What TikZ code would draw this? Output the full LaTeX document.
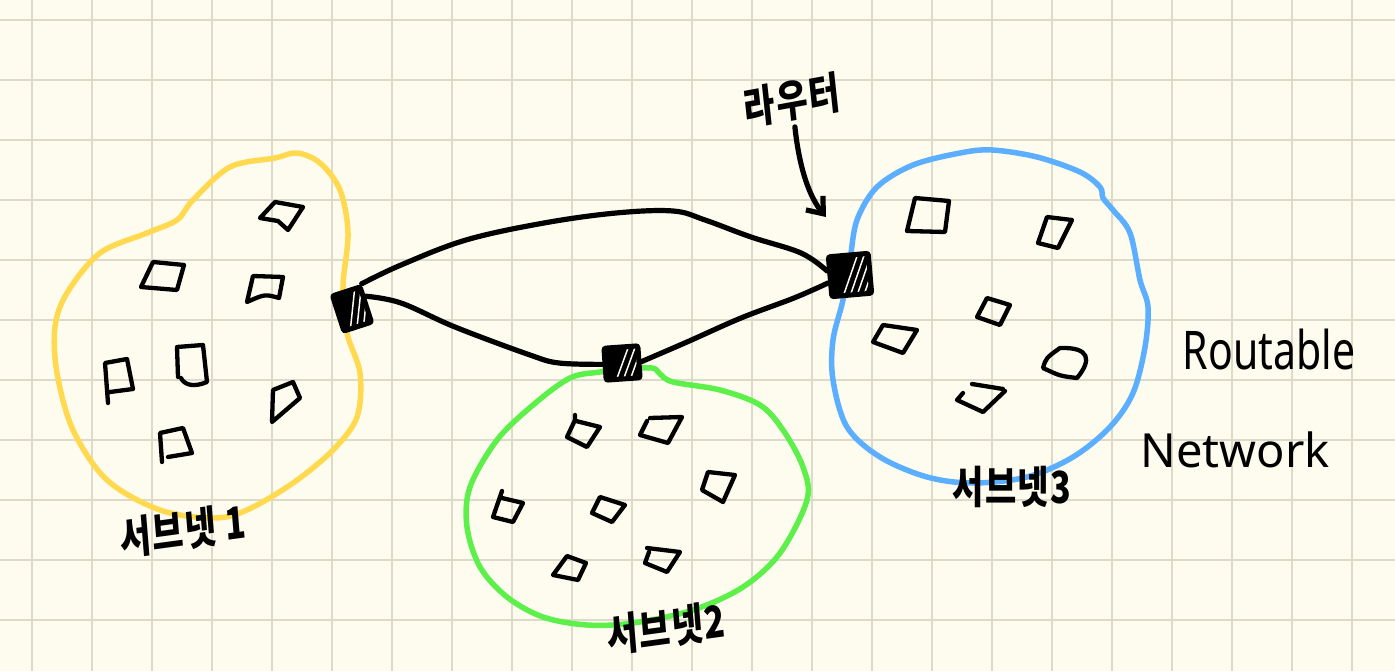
\documentclass[tikz,border=0pt]{standalone}
\usepackage{fontspec}
\setmainfont{Noto Sans}
\newfontfamily\kr{Noto Sans CJK KR}[LetterSpace=4]
\usetikzlibrary{arrows.meta,calc}
\definecolor{cream}{RGB}{254,252,238}
\definecolor{gridc}{RGB}{221,218,202}
\definecolor{yel}{RGB}{255,217,80}
\definecolor{grn}{RGB}{94,240,74}
\definecolor{blu}{RGB}{92,174,255}
\tikzset{
  blob/.style={line width=5.5pt, line join=round},
  dev/.style={line width=4.3pt, line join=round, line cap=round, black},
  wire/.style={line width=5.2pt, line cap=round, line join=round, black},
  router/.style={draw=black, fill=black, line width=5pt, rounded corners=2pt, inner sep=0pt,
    path picture={
      \foreach \d in {-11,-4,3,10,17}{
        \draw[cream, line width=1.5pt] ($(path picture bounding box.center)+(\d pt,-26pt)$) -- ++(66:56pt);
      }
    }},
  krlab/.style={font=\kr\bfseries\fontsize{34}{40}\selectfont, inner sep=0pt, yscale=1.3},
  enlab/.style={inner sep=0pt}
}
\begin{document}
\begin{tikzpicture}[x=1pt,y=-1pt]
\useasboundingbox (0,0) rectangle (1395,671);
\fill[cream] (0,0) rectangle (1395,671);
\foreach \gx in {32,92,...,1372} \draw[gridc, line width=1.6pt] (\gx,0) -- (\gx,671);
\foreach \gy in {20,80,...,620} \draw[gridc, line width=1.6pt] (0,\gy) -- (1395,\gy);

% blobs
\draw[blob, yel] plot[smooth cycle, tension=0.55] coordinates {(275,158) (297,153) (320,163) (340,190) (348,233) (343,287) (347,333) (360,373) (357,417) (333,450) (293,483) (247,510) (213,518) (160,510) (107,480) (73,430) (57,373) (55,327) (67,293) (100,253) (147,233) (177,220) (193,200) (230,167)};
\draw[blob, grn] plot[smooth cycle, tension=0.55] coordinates {(600,372) (570,378) (533,405) (497,440) (470,487) (467,527) (480,567) (507,597) (543,617) (587,625) (633,623) (693,610) (743,587) (780,553) (807,500) (803,467) (783,430) (760,405) (720,390) (673,382) (660,374) (652,368) (622,369)};
\draw[blob, blu] plot[smooth cycle, tension=0.55] coordinates {(992,150) (1037,157) (1080,172) (1100,187) (1103,198) (1113,210) (1130,233) (1140,280) (1148,307) (1145,347) (1133,393) (1110,427) (1073,457) (1027,477) (973,483) (927,477) (880,457) (847,427) (833,380) (833,340) (843,300) (850,260) (857,220) (877,187) (913,165) (960,153)};

% devices subnet 1
\draw[dev] (275,202) -- (303,207) -- (288,230) -- (278,221) -- (260,218) -- cycle;
\draw[dev] (153,262) -- (184,265) -- (177,290) -- (141,287) -- cycle;
\draw[dev] (253,276) -- (283,277) -- (279,298) .. controls (265,294) .. (247,302) -- cycle;
\draw[dev] (108,403) -- (105,363) -- (127,359) -- (133,389) -- (110,392);
\draw[dev] (178,377) -- (177,347) -- (203,345) -- (207,382) .. controls (195,387) and (185,386) .. (181,378);
\draw[dev] (272,422) -- (273,390) -- (293,382) -- (300,398) -- cycle;
\draw[dev] (162,462) -- (160,433) -- (183,428) -- (192,453) -- (168,457);

% devices subnet 2
\draw[dev] (575,415) -- (575,420) -- (567,437) -- (587,447) -- (600,427) -- (576,421);
\draw[dev] (650,418) -- (682,417) -- (668,443) -- (640,435) -- (647,421);
\draw[dev] (708,472) -- (735,475) -- (723,502) -- (702,490) -- cycle;
\draw[dev] (502,491) -- (493,517) -- (513,522) -- (523,503) -- (502,498);
\draw[dev] (600,497) -- (625,505) -- (612,522) -- (592,513) -- cycle;
\draw[dev] (647,548) -- (680,552) -- (667,572) -- (645,563) -- (649,552);
\draw[dev] (567,556) -- (586,563) -- (578,580) -- (553,575) -- cycle;

% devices subnet 3
\draw[dev] (915,198) -- (949,201) -- (945,232) -- (907,231) -- cycle;
\draw[dev] (1047,217) -- (1072,220) -- (1058,248) -- (1038,243) -- cycle;
\draw[dev] (987,298) -- (1010,305) -- (1000,325) -- (977,317) -- cycle;
\draw[dev] (883,325) -- (917,330) -- (903,353) -- (873,342) -- cycle;
\draw[dev] (1060,348) .. controls (1090,347) and (1092,360) .. (1077,378) .. controls (1060,376) .. (1043,368) .. controls (1046,358) .. cycle;
\draw[dev] (972,384) -- (1003,389);
\draw[dev] (1005,391) -- (983,412) -- (957,400) -- (963,393);

% routers
\node[router, minimum width=29pt, minimum height=37pt, rotate=18] (r1) at (352,309) {};
\node[router, minimum width=34pt, minimum height=32pt, rotate=4] (r2) at (622,363) {};
\node[router, minimum width=40pt, minimum height=40pt, rotate=5] (r3) at (850,275) {};

% links
\draw[wire] plot[smooth, tension=0.6] coordinates {(r1.north east) (401,265) (466,240) (544,223) (616,213) (673,211) (705,220) (751,237) (801,253) (r3.165)};
\draw[wire] plot[smooth, tension=0.6] coordinates {(r1.25) (401,303) (455,327) (530,355) (559,363) (r2.west)};
\draw[wire] plot[smooth, tension=0.6] coordinates {(r2.east) (687,342) (741,318) (794,298) (r3.195)};

% labels
\node[krlab, rotate=8] (lab) at (792,100) {라우터};
\coordinate (atip) at (826,217);
\draw[wire, shorten <=6pt, -{Straight Barb[length=14pt,width=22pt]}] (lab.south) .. controls (800,175) and (812,200) .. (atip);

\node[krlab, rotate=6] (s1) at (183,530) {서브넷 1};
\node[krlab, rotate=6] (s2) at (666,628) {서브넷2};
\node[krlab] (s3) at (1012,487) {서브넷3};

\node[enlab, font=\fontsize{41}{48}\selectfont, yscale=1.3] (rt) at (1269,350) {Routable};
\node[enlab, font=\fontsize{47}{54}\selectfont] (nw) at (1235,450) {Network};
\end{tikzpicture}
\end{document}
